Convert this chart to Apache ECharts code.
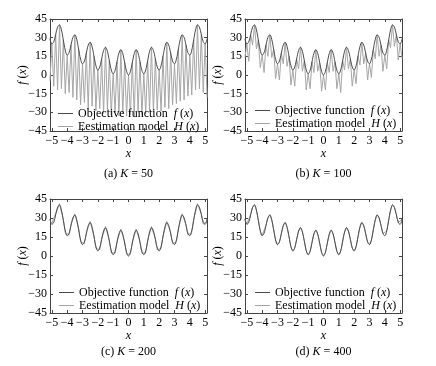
<!DOCTYPE html>
<html><head><meta charset="utf-8">
<script src="https://cdn.jsdelivr.net/npm/echarts@6/dist/echarts.min.js"></script>
<style>html,body{margin:0;padding:0;background:#fff}#c{width:436px;height:366px}</style>
</head><body><div id="c"></div>
<script>
// ---- data ----
const xs = [-5.125,-5,-4.875,-4.75,-4.625,-4.5,-4.375,-4.25,-4.125,-4,-3.875,-3.75,-3.625,-3.5,-3.375,-3.25,-3.125,-3,-2.875,-2.75,-2.625,-2.5,-2.375,-2.25,-2.125,-2,-1.875,-1.75,-1.625,-1.5,-1.375,-1.25,-1.125,-1,-0.875,-0.75,-0.625,-0.5,-0.375,-0.25,-0.125,0,0.125,0.25,0.375,0.5,0.625,0.75,0.875,1,1.125,1.25,1.375,1.5,1.625,1.75,1.875,2,2.125,2.25,2.375,2.5,2.625,2.75,2.875,3,3.125,3.25,3.375,3.5,3.625,3.75,3.875,4,4.125,4.25,4.375,4.5,4.625,4.75,4.875,5,5.125];
const objectiveF = [29.2,25.0,26.7,32.6,38.5,40.3,36.2,28.1,20.0,16.0,18.0,24.1,30.2,32.3,28.5,20.6,12.7,9.0,11.2,17.6,24.0,26.3,22.7,15.1,7.5,4.0,6.5,13.1,19.7,22.3,19.0,11.6,4.2,1.0,3.7,10.6,17.5,20.3,17.2,10.1,3.0,0.0,3.0,10.1,17.2,20.3,17.5,10.6,3.7,1.0,4.2,11.6,19.0,22.3,19.7,13.1,6.5,4.0,7.5,15.1,22.7,26.3,24.0,17.6,11.2,9.0,12.7,20.6,28.5,32.3,30.2,24.1,18.0,16.0,20.0,28.1,36.2,40.3,38.5,32.6,26.7,25.0,29.2];
const estimK50 = [-5,25.0,-9,32.6,-12,40.3,-11,28.1,-15,16.0,-14,24.1,-18,32.3,-20,20.6,-24,9.0,-22,17.6,-27,26.3,-25,15.1,-29,4.0,-27,13.1,-31,22.3,-29,11.6,-32,1.0,-30,10.6,-33,20.3,-31,10.1,-33,0.0,-32,10.1,-33,20.3,-30,10.6,-32,1.0,-31,11.6,-29,22.3,-30,13.1,-28,4.0,-29,15.1,-26,26.3,-27,17.6,-24,9.0,-23,20.6,-21,32.3,-20,24.1,-17,16.0,-16,28.1,-12,40.3,-11,32.6,-14,25.0,-18];
const estimK100 = [14,25.0,11,32.6,24,40.3,21,28.1,6,16.0,2,24.1,15,32.3,14,20.6,-3,9.0,-4,17.6,9,26.3,7,15.1,-8,4.0,-9,13.1,5,22.3,3,11.6,-12,1.0,-11,10.6,2,20.3,3,10.1,-13,0.0,-12,10.1,2,20.3,3,10.6,-11,1.0,-14,11.6,4,22.3,5,13.1,-9,4.0,-7,15.1,8,26.3,9,17.6,-4,9.0,-2,20.6,13,32.3,15,24.1,3,16.0,5,28.1,22,40.3,23,32.6,12,25.0,13];
const estimK200 = [27.7,26.0,25.2,33.6,37.0,41.3,34.7,29.1,18.5,17.0,16.5,25.1,28.7,33.3,27.0,21.6,11.2,10.0,9.7,18.6,22.5,27.3,21.2,16.1,6.0,5.0,5.0,14.1,18.2,23.3,17.5,12.6,2.7,2.0,2.2,11.6,16.0,21.3,15.7,11.1,1.5,1.0,1.5,11.1,15.7,21.3,16.0,11.6,2.2,2.0,2.7,12.6,17.5,23.3,18.2,14.1,5.0,5.0,6.0,16.1,21.2,27.3,22.5,18.6,9.7,10.0,11.2,21.6,27.0,33.3,28.7,25.1,16.5,17.0,18.5,29.1,34.7,41.3,37.0,33.6,25.2,26.0,27.7];
const estimK400 = [28.9,25.3,26.4,32.9,38.2,40.6,35.9,28.4,19.7,16.3,17.7,24.4,29.9,32.6,28.2,20.9,12.4,9.3,10.9,17.9,23.7,26.6,22.4,15.4,7.2,4.3,6.2,13.4,19.4,22.6,18.7,11.9,3.9,1.3,3.4,10.9,17.2,20.6,16.9,10.4,2.7,0.3,2.7,10.4,16.9,20.6,17.2,10.9,3.4,1.3,3.9,11.9,18.7,22.6,19.4,13.4,6.2,4.3,7.2,15.4,22.4,26.6,23.7,17.9,10.9,9.3,12.4,20.9,28.2,32.6,29.9,24.4,17.7,16.3,19.7,28.4,35.9,40.6,38.2,32.9,26.4,25.3,28.9];
const kValues = ['50','100','200','400'];
const panelLetters = ['a','b','c','d'];
const xTicks = [-5,-4,-3,-2,-1,0,1,2,3,4,5];
const estimations = [estimK50, estimK100, estimK200, estimK400];

// ---- layout ----
const LAYOUT = [
  {left:50,  top:19,  width:157, height:112, lgLeft:58,  lgTop:107, capX:128.5, capY:174},
  {left:245, top:19,  width:157, height:112, lgLeft:255, lgTop:104, capX:323.5, capY:174},
  {left:50,  top:199, width:157, height:114, lgLeft:59,  lgTop:286, capX:128.5, capY:352},
  {left:245, top:199, width:157, height:114, lgLeft:255, lgTop:286, capX:323.5, capY:352}
];
const FONT = "'Liberation Serif','Times New Roman',serif";
const TXT = '#000';
const FRAME = '#444';
const F_COLOR = '#4a4a4a';
const H_COLOR = '#a6a6a6';
const fmtMinus = v => String(v).replace('-', '\u2212');
const plain = {fontFamily: FONT, fontSize: 12, color: TXT};
const italic = {fontFamily: FONT, fontSize: 12, color: TXT, fontStyle: 'italic'};

const chart = echarts.init(document.getElementById('c'));
const grid = [], xAxis = [], yAxis = [], series = [], legend = [], graphic = [];
LAYOUT.forEach((l, i) => {
  grid.push({left: l.left, top: l.top, width: l.width, height: l.height});
  const lineCfg = {show: true, onZero: false, lineStyle: {color: FRAME, width: 1}};
  const tickX = {show: true, inside: true, length: 3, customValues: xTicks, lineStyle: {color: FRAME}};
  const tickY = {show: true, inside: true, length: 3, lineStyle: {color: FRAME}};
  xAxis.push({
    type: 'value', gridIndex: i, position: 'bottom', min: -5.12, max: 5.12,
    axisLine: lineCfg, axisTick: tickX, splitLine: {show: false},
    axisLabel: Object.assign({customValues: xTicks, formatter: fmtMinus, margin: 4}, plain),
    name: '{i|x}', nameLocation: 'middle', nameGap: 17, nameMoveOverlap: false,
    nameTextStyle: Object.assign({rich: {i: italic}}, plain)
  });
  xAxis.push({
    type: 'value', gridIndex: i, position: 'top', min: -5.12, max: 5.12,
    axisLine: lineCfg, axisTick: tickX, splitLine: {show: false}, axisLabel: {show: false}
  });
  yAxis.push({
    type: 'value', gridIndex: i, position: 'left', min: -45, max: 45, interval: 15,
    axisLine: lineCfg, axisTick: tickY, splitLine: {show: false},
    axisLabel: Object.assign({formatter: fmtMinus, margin: 3}, plain),
    name: '{i|f} ({i|x})', nameLocation: 'middle', nameGap: 21, nameMoveOverlap: false,
    nameTextStyle: Object.assign({rich: {i: italic}}, plain)
  });
  yAxis.push({
    type: 'value', gridIndex: i, position: 'right', min: -45, max: 45, interval: 15,
    axisLine: lineCfg, axisTick: tickY, splitLine: {show: false}, axisLabel: {show: false}
  });
  const H = estimations[i];
  series.push({
    name: 'f' + i, type: 'line', xAxisIndex: 2 * i, yAxisIndex: 2 * i,
    data: xs.map((x, j) => [x, objectiveF[j]]), symbol: 'none', smooth: 0.4,
    lineStyle: {color: F_COLOR, width: 1}, itemStyle: {color: F_COLOR}, z: 3
  });
  series.push({
    name: 'h' + i, type: 'line', xAxisIndex: 2 * i, yAxisIndex: 2 * i,
    data: xs.map((x, j) => [x, H[j]]), symbol: 'none',
    lineStyle: {color: H_COLOR, width: 1}, itemStyle: {color: H_COLOR}, z: 2
  });
  legend.push({
    left: l.lgLeft, top: l.lgTop, orient: 'vertical', padding: 0, itemGap: 0,
    icon: 'rect', itemWidth: 15, itemHeight: 1, selectedMode: false,
    data: ['f' + i, 'h' + i],
    formatter: n => n[0] === 'f' ? 'Objective function  {i|f} ({i|x})' : 'Eestimation model  {i|H} ({i|x})',
    textStyle: Object.assign({lineHeight: 13, rich: {i: Object.assign({lineHeight: 13}, italic)}}, plain)
  });
  graphic.push({
    type: 'text', x: l.capX, y: l.capY,
    style: {
      text: '(' + panelLetters[i] + ') {i|K} = ' + kValues[i],
      align: 'center', verticalAlign: 'middle',
      fontFamily: FONT, fontSize: 12, fill: TXT,
      rich: {i: {fontFamily: FONT, fontSize: 12, fill: TXT, fontStyle: 'italic'}}
    }
  });
});
chart.setOption({animation: false, backgroundColor: '#fff', grid, xAxis, yAxis, series, legend, graphic});
</script></body></html>
